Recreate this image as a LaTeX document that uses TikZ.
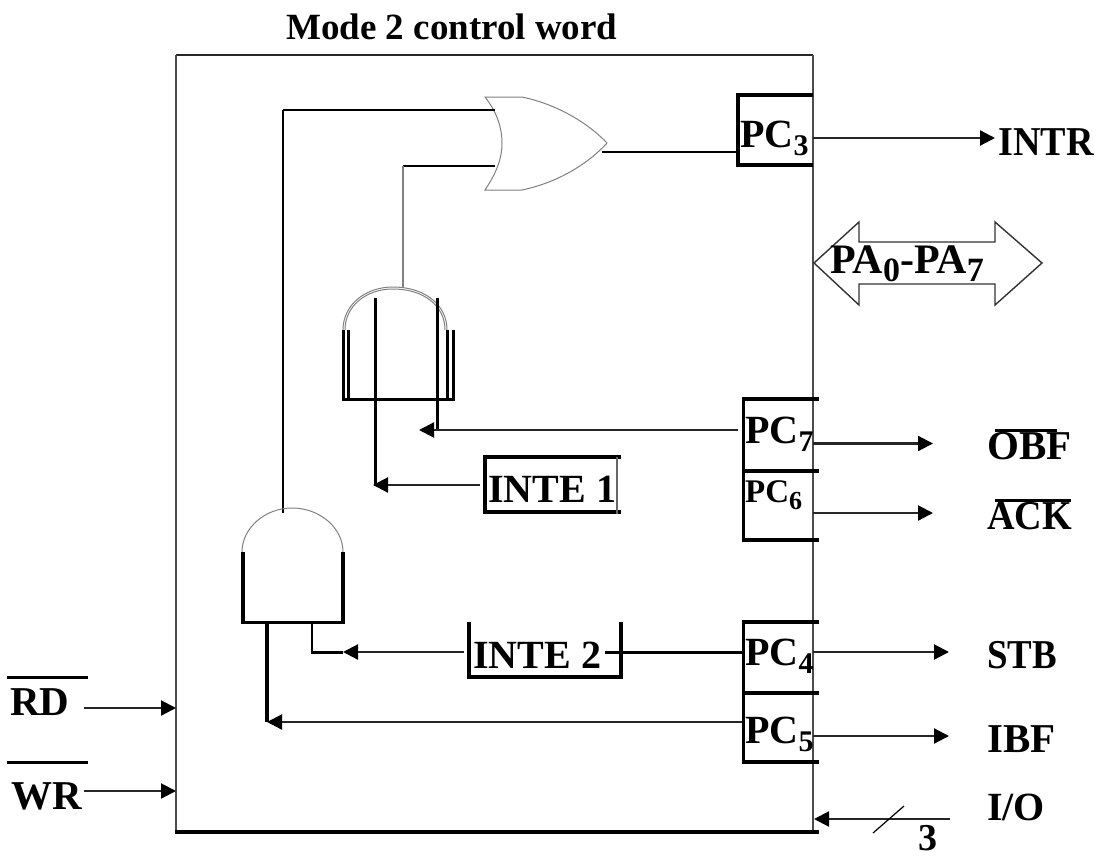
\documentclass[tikz,border=0pt]{standalone}
\usepackage{fontspec}
\setmainfont{Liberation Serif}
\usetikzlibrary{arrows.meta}
\newcommand{\fsz}[1]{\fontsize{#1}{#1}\selectfont\bfseries}
\newcommand{\sbs}[3]{\raisebox{-#2pt}{\fontsize{#3}{#3}\selectfont\bfseries #1}}
\tikzset{
  x=1pt,y=-1pt,
  lab/.style={inner sep=0pt,anchor=base west,text=black},
  thick3/.style={line width=3.4pt,black},
  thick2/.style={line width=3pt,black},
  boxline/.style={line width=3.2pt,black},
  frame/.style={line width=2.2pt,black!70},
  thin1/.style={line width=1pt,black!50},
  wire/.style={line width=2.4pt,black},
  arr/.style={line width=2.2pt,black!85,-{Triangle[length=15pt,width=15pt,color=black]},shorten >=0pt},
}
\begin{document}
\begin{tikzpicture}
\useasboundingbox (0,0) rectangle (1100,859);
% port coordinates
\coordinate (tl) at (176,55);
\coordinate (tr) at (813,55);
\coordinate (br) at (813,832);
\coordinate (bl) at (176,832);
\coordinate (orA) at (495,110);
\coordinate (orB) at (495,166);
\coordinate (orC) at (403,166);
\coordinate (orOut) at (602,152);
\coordinate (andTop) at (403,287);
\coordinate (pc3in) at (738,152);
\coordinate (pc3out) at (813,138);
\coordinate (intrIn) at (995,138);
\coordinate (wA) at (283,110);
\coordinate (and2Top) at (283,513);
\coordinate (pc7in) at (738,430);
\coordinate (and1R) at (437,431);
\coordinate (and1Rtop) at (437,298);
\coordinate (inte1w) at (480,485);
\coordinate (and1L) at (375,486);
\coordinate (and1Ltop) at (375,298);
\coordinate (pc7out) at (813,443.5);
\coordinate (obfIn) at (933,443.5);
\coordinate (pc6out) at (813,513);
\coordinate (ackIn) at (933,513);
\coordinate (pc4in) at (743,652);
\coordinate (inte2e) at (605,652);
\coordinate (inte2w) at (464,652);
\coordinate (and2R) at (343,652);
\coordinate (and2Rj) at (311,652);
\coordinate (and2Rb) at (312,623);
\coordinate (pc5in) at (743,722);
\coordinate (and2L) at (267,722);
\coordinate (and2Lb) at (267,623);
\coordinate (pc4out) at (813,652);
\coordinate (stbIn) at (949,652);
\coordinate (pc5out) at (813,736);
\coordinate (ibfIn) at (949,736);
\coordinate (ioOut) at (950,819);
\coordinate (ioIn) at (814,819);
\coordinate (rdOut) at (84,708);
\coordinate (rdIn) at (176,708);
\coordinate (wrOut) at (84,791);
\coordinate (wrIn) at (176,791);
\coordinate (sl1) at (873,833);
\coordinate (sl2) at (904,806);
% frame
\draw[line width=1.8pt,black!85] (tl) -- (tr);
\draw[frame] (tl) -- (bl);
\draw[frame] (tr) -- (br);
\draw[thick3] (175,832) -- (819,832);
% OR gate
\path[draw=black!50,line width=1pt,fill=white] (485,97) -- (522,97) .. controls (560,105) and (590,125) .. (607,143)
  .. controls (590,162) and (560,182) .. (522,190) -- (485,190) .. controls (497,172) and (502,158) .. (502,143)
  .. controls (502,128) and (497,112) .. (485,97) -- cycle;
\draw[wire] (wA) -- (orA);
\draw[wire] (wA) -- (and2Top);
\draw[wire] (orC) -- (orB);
\draw[line width=1.4pt,black!50] (orC) -- (andTop);
\draw[wire] (orOut) -- (pc3in);
% upper AND
\draw[thin1] (343,330) .. controls (343,305) and (365,287) .. (393,287) .. controls (425,287) and (447,305) .. (447,330);
\draw[thin1] (345,330) .. controls (345,306) and (366,289) .. (393,289) .. controls (424,289) and (445,306) .. (445,330);
\draw[thick2] (343,330) -- (343,399) -- (453,399) -- (453,330);
\draw[thick2] (348,330) -- (348,399);
\draw[thick2] (447,330) -- (447,399);
\draw[thick2] (and1Ltop) -- (and1L);
\draw[thick2] (and1Rtop) -- (and1R);
% lower AND
\draw[thin1] (242,552) .. controls (242,528) and (265,508) .. (292,508) .. controls (320,508) and (343,528) .. (343,552);
\draw[thick3] (243,552) -- (243,622.5) -- (343,622.5) -- (343,552);
\draw[thick3] (and2Lb) -- (and2L);
\draw[line width=1.6pt,black] (and2Rb) -- (312,652);
\draw[thick2] (and2Rj) -- (and2R);
% arrows
\draw[arr] (pc3out) -- (intrIn);
\draw[arr] (pc7in) -- (419,430);
\draw[arr] (inte1w) -- (373,485);
\draw[arr] (pc7out) -- (obfIn);
\draw[arr] (pc6out) -- (ackIn);
\draw[arr] (inte2w) -- (and2R);
\draw[thick2] (inte2e) -- (pc4in);
\draw[arr] (pc5in) -- (and2L);
\draw[arr] (pc4out) -- (stbIn);
\draw[arr] (pc5out) -- (ibfIn);
\draw[arr] (ioOut) -- (ioIn);
\draw[arr] (rdOut) -- (rdIn);
\draw[arr] (wrOut) -- (wrIn);
\draw[line width=1.2pt,black] (sl1) -- (sl2);
% boxes
\draw[boxline] (813,95) -- (738,95) -- (738,165) -- (813,165);
\draw[boxline] (819,399) -- (743.5,399) -- (743.5,540) -- (819,540);
\draw[boxline] (743.5,471) -- (819,471);
\draw[boxline] (819,622) -- (743.5,622) -- (743.5,762) -- (819,762);
\draw[boxline] (743.5,693) -- (819,693);
\draw[boxline] (621,457) -- (485,457) -- (485,512) -- (621,512);
\draw[line width=1.2pt,black!60] (617,457) -- (617,514);
\draw[thick3] (469,622) -- (469,677) -- (621,677) -- (621,622);
% PA double arrow
\path[draw=black!80,line width=1.4pt,fill=white] (814,263) -- (859,222) -- (859,242) -- (995,242) -- (995,222) -- (1042,263) -- (995,305) -- (995,284) -- (859,284) -- (859,305) -- cycle;
% overlines
\draw[thick2] (7,677) -- (88,677);
\draw[thick2] (7,762) -- (88,762);
\draw[thick2] (995,430) -- (1057,430);
\draw[thick2] (995,500) -- (1071,500);
% texts
\node[lab] (title) at (286,40) {\fsz{37}Mode 2 control word};
\node[lab] (pc3) at (740,147) {\fsz{40}PC\sbs{3}{8}{30}};
\node[lab] (pc7) at (745,443) {\fsz{40}PC\sbs{7}{8}{30}};
\node[lab] (pc6) at (745,502) {\fsz{33}PC\sbs{6}{7}{26}};
\node[lab] (pc4) at (745,665) {\fsz{40}PC\sbs{4}{8}{30}};
\node[lab] (pc5) at (745,743) {\fsz{40}PC\sbs{5}{8}{30}};
\node[lab] (intr) at (998,155) {\scalebox{0.93}[1]{\fsz{41}INTR}};
\node[lab] (pa) at (830,273) {\fsz{42}PA\sbs{0}{8}{34}-PA\sbs{7}{8}{34}};
\node[lab] (obf) at (987,459) {\fsz{41}OBF};
\node[lab] (ack) at (987,529) {\scalebox{0.93}[1]{\fsz{41}ACK}};
\node[lab] (stb) at (987,668) {\scalebox{0.9}[1]{\fsz{41}STB}};
\node[lab] (ibf) at (987,752) {\fsz{41}IBF};
\node[lab] (io) at (987,820) {\fsz{40}I/O};
\node[lab] (three) at (918,850) {\fsz{38}3};
\node[lab] (rd) at (10,715) {\fsz{41}RD};
\node[lab] (wr) at (11,809) {\fsz{41}WR};
\node[lab] (inte1) at (488,502) {\fsz{40}INTE 1};
\node[lab] (inte2) at (473,668) {\fsz{40}INTE 2};
\end{tikzpicture}
\end{document}
